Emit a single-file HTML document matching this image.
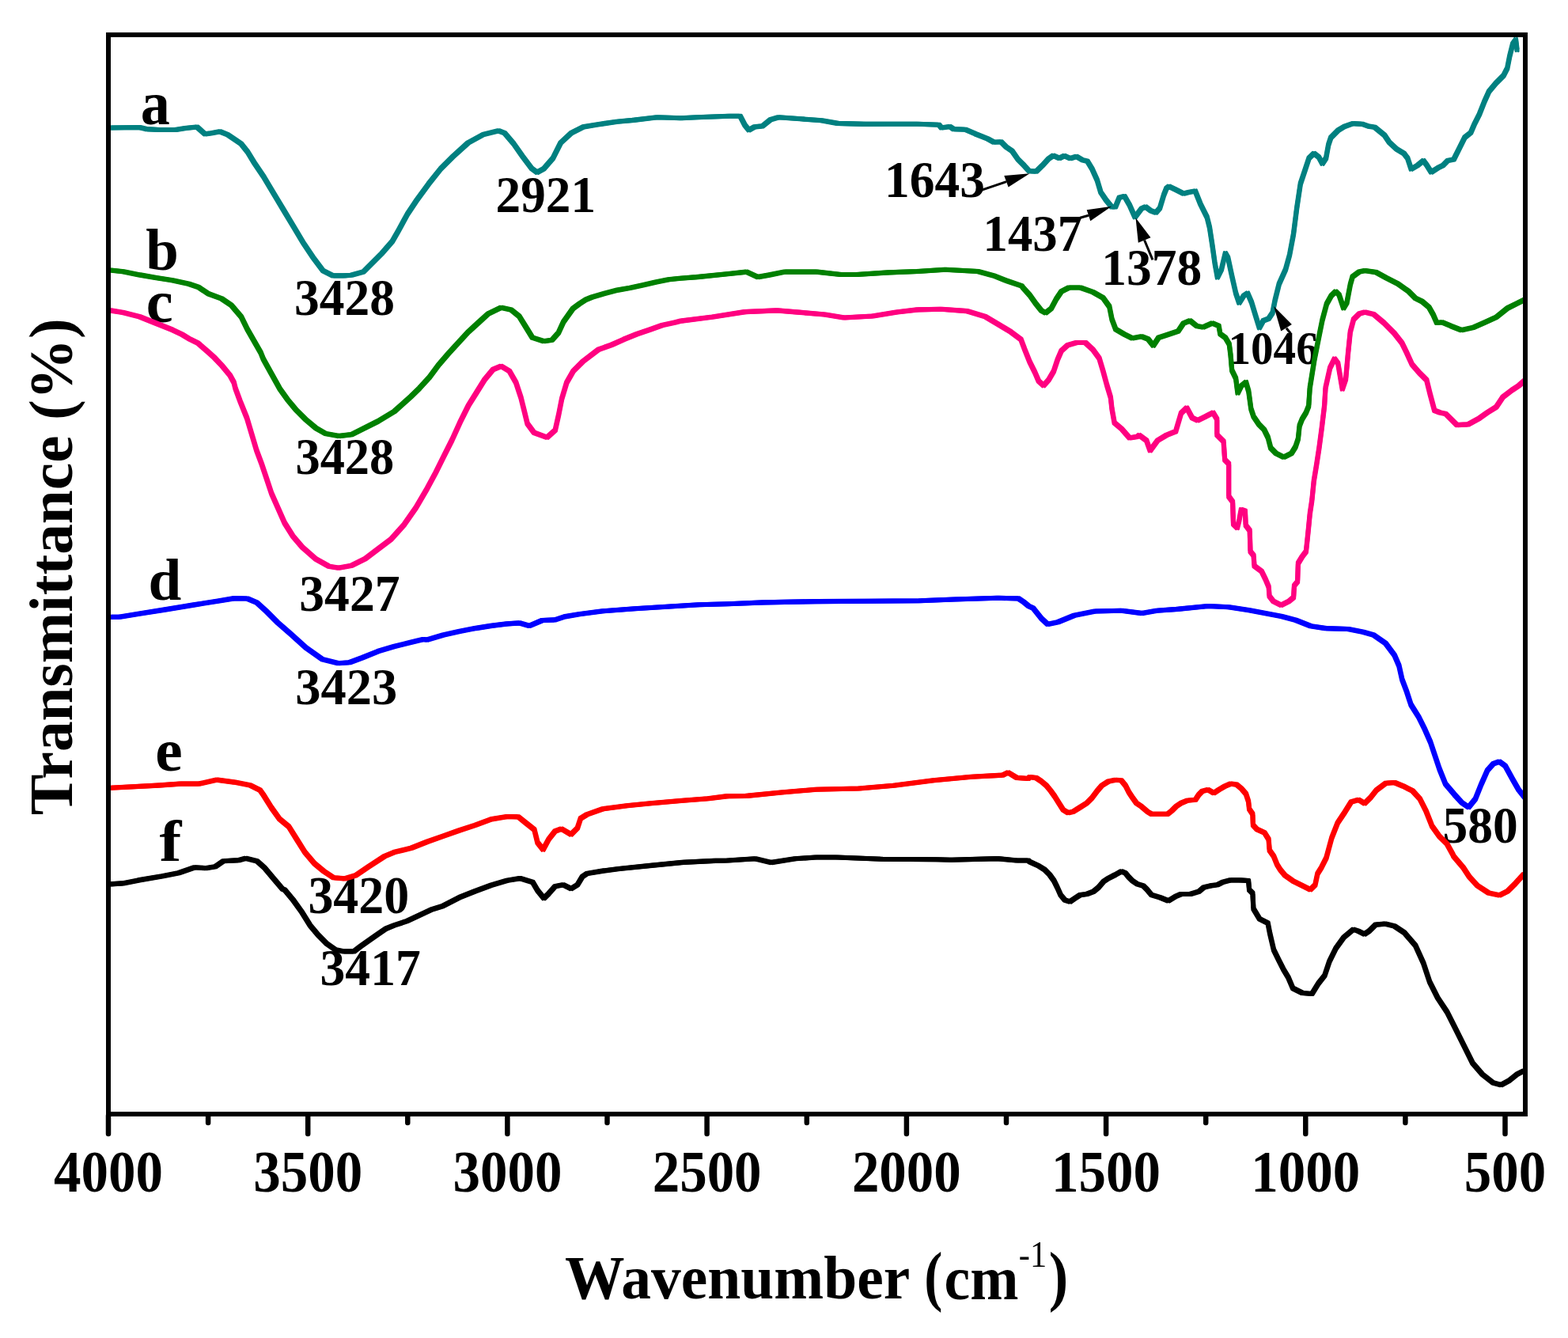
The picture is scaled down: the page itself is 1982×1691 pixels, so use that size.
<!DOCTYPE html>
<html><head><meta charset="utf-8"><title>FTIR spectra</title>
<style>html,body{margin:0;padding:0;background:#fff;width:1982px;height:1691px;overflow:hidden}svg{display:block}</style>
</head><body>
<svg width="1982" height="1691" viewBox="0 0 1982 1691">
<rect width="1982" height="1691" fill="#fff"/>
<g font-family="Liberation Serif, Times New Roman, serif" font-weight="bold" font-size="100" fill="#000">
<text transform="translate(177.68,157.13) scale(0.7413,0.7729)" font-weight="bold">a</text>
<text transform="translate(184.15,341.16) scale(0.7471,0.7429)" font-weight="bold">b</text>
<text transform="translate(184.71,407.13) scale(0.7641,0.7667)" font-weight="bold">c</text>
<text transform="translate(187.50,757.75) scale(0.7510,0.7500)" font-weight="bold">d</text>
<text transform="translate(196.28,973.74) scale(0.7744,0.7583)" font-weight="bold">e</text>
<text transform="translate(201.60,1088.20) scale(0.8371,0.7394)" font-weight="bold">f</text>
<text transform="translate(371.89,397.67) scale(0.6351,0.6647)" font-weight="bold">3428</text>
<text transform="translate(626.57,268.37) scale(0.6325,0.6632)" font-weight="bold">2921</text>
<text transform="translate(1118.02,248.59) scale(0.6344,0.6559)" font-weight="bold">1643</text>
<text transform="translate(1242.58,317.09) scale(0.6274,0.6559)" font-weight="bold">1437</text>
<text transform="translate(1392.32,360.09) scale(0.6349,0.6574)" font-weight="bold">1378</text>
<text transform="translate(1552.42,459.63) scale(0.5720,0.5868)" font-weight="bold">1046</text>
<text transform="translate(373.43,599.49) scale(0.6242,0.6544)" font-weight="bold">3428</text>
<text transform="translate(378.29,772.39) scale(0.6364,0.6529)" font-weight="bold">3427</text>
<text transform="translate(373.27,890.39) scale(0.6448,0.6529)" font-weight="bold">3423</text>
<text transform="translate(1823.56,1065.19) scale(0.6350,0.6529)" font-weight="bold">580</text>
<text transform="translate(389.38,1154.46) scale(0.6397,0.6676)" font-weight="bold">3420</text>
<text transform="translate(404.49,1245.29) scale(0.6369,0.6529)" font-weight="bold">3417</text>
<text transform="translate(68.02,1505.53) scale(0.6898,0.7353)">4000</text>
<text transform="translate(320.23,1505.53) scale(0.6898,0.7353)">3500</text>
<text transform="translate(572.45,1505.53) scale(0.6898,0.7353)">3000</text>
<text transform="translate(824.66,1505.53) scale(0.6898,0.7353)">2500</text>
<text transform="translate(1076.88,1505.53) scale(0.6898,0.7353)">2000</text>
<text transform="translate(1329.09,1505.53) scale(0.6898,0.7353)">1500</text>
<text transform="translate(1581.31,1505.53) scale(0.6898,0.7353)">1000</text>
<text transform="translate(1850.77,1505.53) scale(0.6898,0.7353)">500</text>
<text transform="translate(714.05,1641.35) scale(0.7550,0.7746)" font-weight="bold">Wavenumber</text>
<text transform="translate(1168.31,1640.83) scale(0.6963,0.8556)" font-weight="bold">(</text>
<text transform="translate(1193.60,1642.12) scale(0.7347,0.7812)" font-weight="bold">cm</text>
<text transform="translate(1287.83,1600.90) scale(0.4240,0.4712)" font-weight="normal">-1</text>
<text transform="translate(1325.70,1640.83) scale(0.7346,0.8556)" font-weight="bold">)</text>
<text transform="translate(91.30,1030.27) rotate(-90) scale(0.7737,0.7800)">Transmittance (%)</text>
</g>
<defs>
<path id="pf" d="M139.5,1117.4 L155.2,1116.4 L175.4,1112.4 L205.6,1107.3 L225.8,1103.3 L246.0,1096.2 L260.1,1097.2 L272.2,1095.2 L282.3,1088.2 L302.5,1087.1 L310.6,1084.7 L324.7,1088.2 L334.8,1097.2 L344.9,1109.3 L357.0,1123.5 L360.0,1124.7 L370.6,1137.5 L381.3,1152.4 L391.9,1169.4 L402.6,1182.2 L413.2,1192.8 L423.9,1200.3 L434.5,1202.4 L447.3,1202.4 L455.8,1196.0 L466.4,1188.6 L477.1,1181.1 L487.7,1173.7 L498.4,1169.4 L514.3,1164.1 L530.3,1156.6 L546.3,1149.2 L560.0,1144.9 L580.5,1134.3 L600.7,1126.2 L620.9,1118.8 L641.1,1112.7 L657.2,1110.1 L673.4,1115.1 L679.4,1125.2 L687.5,1135.3 L693.6,1129.3 L701.6,1120.2 L711.7,1118.2 L721.8,1123.2 L729.9,1118.2 L736.0,1108.1 L742.0,1104.0 L762.2,1100.6 L782.4,1098.0 L822.7,1093.9 L863.1,1089.9 L903.4,1087.9 L920.0,1087.5 L954.7,1085.3 L974.4,1090.1 L1005.0,1085.3 L1031.3,1083.5 L1057.5,1083.5 L1114.4,1085.7 L1184.5,1086.2 L1202.0,1086.8 L1261.0,1085.1 L1285.1,1087.5 L1300.0,1087.5 L1301.3,1089.0 L1311.9,1093.8 L1320.5,1099.1 L1326.8,1105.5 L1332.2,1113.0 L1336.4,1121.5 L1340.7,1131.1 L1346.0,1137.5 L1352.4,1139.6 L1358.8,1135.3 L1365.2,1131.1 L1373.7,1130.0 L1382.2,1126.8 L1388.6,1121.5 L1395.0,1114.0 L1401.4,1109.8 L1409.9,1105.5 L1417.3,1101.3 L1422.6,1103.4 L1426.9,1108.7 L1431.2,1113.0 L1437.5,1117.2 L1445.0,1119.4 L1450.3,1124.7 L1455.6,1131.1 L1466.3,1134.3 L1476.9,1138.5 L1485.5,1133.2 L1492.9,1130.0 L1504.6,1130.0 L1515.3,1126.8 L1521.6,1121.5 L1530.2,1119.4 L1538.7,1118.3 L1545.1,1115.1 L1554.6,1112.4 L1567.4,1112.4 L1578.1,1113.0 L1579.1,1124.7 L1583.4,1128.9 L1584.4,1148.4 L1592.2,1161.4 L1602.6,1166.6 L1605.2,1179.9 L1610.1,1200.7 L1616.1,1212.8 L1622.2,1224.9 L1628.2,1234.9 L1634.2,1249.0 L1646.3,1255.0 L1658.4,1256.0 L1666.4,1243.0 L1674.4,1232.9 L1680.5,1214.8 L1688.5,1198.7 L1698.6,1184.6 L1710.6,1174.6 L1716.7,1176.6 L1724.7,1180.6 L1730.7,1176.6 L1738.8,1168.6 L1750.8,1167.6 L1762.9,1170.6 L1775.0,1178.6 L1789.0,1194.7 L1799.1,1216.8 L1807.1,1240.9 L1817.2,1261.0 L1829.2,1279.1 L1839.3,1299.2 L1851.4,1323.4 L1861.4,1343.5 L1873.5,1357.6 L1887.5,1368.6 L1897.6,1371.2 L1907.7,1365.6 L1917.7,1357.6 L1925.7,1353.5"/>
<path id="pe" d="M139.5,995.7 L199.6,992.6 L227.8,990.6 L252.0,990.6 L274.3,985.6 L296.5,988.6 L316.6,992.6 L328.7,998.7 L332.8,1004.4 L342.9,1020.5 L353.0,1034.7 L365.1,1044.8 L375.2,1060.9 L385.3,1077.0 L397.4,1091.2 L409.5,1101.3 L421.6,1109.3 L435.7,1110.4 L449.8,1106.3 L466.0,1095.2 L486.2,1082.1 L498.3,1077.1 L520.0,1071.7 L540.2,1063.7 L560.4,1056.6 L580.5,1049.5 L600.7,1042.9 L620.9,1035.4 L641.1,1032.0 L655.2,1032.4 L665.3,1040.5 L675.4,1048.5 L679.4,1064.7 L686.5,1073.8 L693.6,1060.6 L701.6,1050.5 L709.7,1047.5 L721.8,1054.6 L729.9,1046.5 L733.9,1034.4 L742.0,1029.4 L762.2,1022.3 L792.5,1018.3 L822.7,1015.2 L863.1,1011.8 L895.4,1009.2 L920.0,1006.1 L943.8,1005.9 L987.5,1001.5 L1031.3,997.8 L1086.0,996.5 L1129.8,992.7 L1180.1,986.2 L1228.2,981.8 L1267.6,979.6 L1274.2,976.3 L1285.1,982.9 L1300.0,984.0 L1301.3,982.0 L1309.8,983.1 L1316.2,987.4 L1322.6,992.7 L1327.9,999.1 L1333.2,1006.5 L1338.5,1015.0 L1343.9,1023.5 L1350.3,1027.3 L1356.6,1025.7 L1365.2,1020.4 L1373.7,1015.0 L1380.1,1008.6 L1386.5,1000.1 L1392.8,992.7 L1401.4,987.4 L1409.9,985.8 L1417.3,986.3 L1422.6,992.7 L1426.9,1001.2 L1431.2,1007.6 L1436.5,1015.0 L1442.9,1019.3 L1450.3,1025.7 L1455.6,1028.9 L1466.3,1028.9 L1475.9,1028.9 L1481.2,1024.6 L1486.5,1019.3 L1492.9,1015.0 L1500.4,1011.8 L1511.0,1010.8 L1515.3,1004.4 L1519.5,1000.1 L1527.0,998.0 L1534.4,1002.3 L1540.8,998.0 L1548.3,993.7 L1555.7,990.5 L1563.2,991.6 L1569.5,996.9 L1574.9,1003.3 L1578.1,1012.9 L1579.1,1022.5 L1583.4,1028.9 L1583.9,1042.7 L1588.7,1048.0 L1598.3,1052.3 L1603.6,1060.8 L1604.7,1074.6 L1610.0,1082.1 L1614.3,1092.7 L1618.2,1099.0 L1624.2,1106.2 L1634.2,1113.3 L1646.3,1119.3 L1656.3,1124.3 L1662.4,1118.3 L1665.4,1104.2 L1670.4,1096.2 L1676.5,1084.1 L1677.6,1080.0 L1683.3,1059.0 L1690.8,1040.0 L1698.4,1028.7 L1707.9,1013.5 L1717.3,1010.7 L1724.9,1015.4 L1732.5,1007.9 L1740.0,998.4 L1751.4,989.9 L1762.7,989.0 L1774.1,993.7 L1785.4,999.4 L1794.9,1009.8 L1802.5,1024.9 L1810.0,1043.8 L1819.5,1057.1 L1829.0,1066.5 L1836.5,1080.0 L1837.3,1082.1 L1849.4,1096.2 L1857.4,1108.3 L1867.4,1119.3 L1881.5,1128.4 L1895.6,1131.4 L1905.6,1126.3 L1915.7,1116.3 L1925.7,1105.2"/>
<path id="pd" d="M139.5,779.7 L151.1,779.7 L175.4,775.7 L207.7,770.6 L244.0,764.6 L276.3,759.5 L296.5,756.1 L312.6,756.5 L324.7,761.6 L336.8,772.7 L351.0,786.8 L367.1,800.9 L387.3,819.1 L407.5,833.2 L427.6,838.2 L441.8,837.2 L457.9,831.2 L478.1,823.1 L498.3,817.1 L518.5,812.0 L535.0,808.0 L540.2,808.6 L560.4,802.6 L580.5,798.1 L600.7,794.1 L620.9,790.9 L641.1,788.4 L657.2,787.4 L669.3,790.9 L685.5,784.0 L701.6,783.4 L713.7,779.4 L731.9,776.3 L762.2,772.3 L802.5,769.3 L842.9,766.8 L883.3,764.2 L920.0,763.2 L926.3,763.0 L965.6,761.4 L1031.3,760.1 L1096.9,759.7 L1162.6,759.3 L1206.3,757.5 L1261.0,755.8 L1287.3,756.4 L1293.9,760.8 L1300.0,765.8 L1306.0,768.6 L1316.4,781.6 L1324.2,788.9 L1337.2,786.3 L1358.0,777.7 L1384.1,772.5 L1417.9,771.7 L1443.9,775.1 L1462.1,771.7 L1488.1,769.9 L1527.1,766.0 L1553.2,767.3 L1579.2,771.2 L1620.0,779.0 L1637.8,783.7 L1656.8,791.2 L1675.7,794.1 L1704.1,795.0 L1723.0,798.8 L1736.2,802.6 L1751.4,813.0 L1762.7,828.1 L1768.4,841.4 L1772.2,858.4 L1777.9,873.5 L1783.5,890.6 L1793.0,905.7 L1800.6,920.8 L1808.1,937.9 L1813.8,954.9 L1819.5,971.9 L1827.1,990.8 L1838.4,1004.1 L1847.9,1014.5 L1856.4,1020.2 L1864.9,1009.8 L1872.5,990.8 L1880.0,973.8 L1887.6,965.3 L1895.2,962.5 L1902.7,968.1 L1912.2,985.2 L1919.8,998.4 L1927.3,1007.9"/>
<path id="pc" d="M139.5,392.4 L155.7,395.0 L176.4,400.2 L197.0,408.5 L217.8,416.8 L230.0,422.6 L240.1,428.7 L250.2,433.7 L260.3,442.3 L270.4,451.4 L280.5,462.0 L290.5,474.1 L295.6,483.2 L297.6,491.1 L303.8,507.7 L312.1,528.4 L318.3,549.1 L324.5,569.8 L330.7,586.3 L337.0,605.0 L343.2,623.6 L351.4,642.2 L359.7,660.9 L370.1,677.4 L382.5,691.9 L399.0,706.4 L415.6,715.7 L428.0,717.8 L444.6,714.7 L461.2,706.4 L477.7,694.0 L494.3,681.6 L510.9,662.9 L525.4,642.2 L539.9,617.4 L550.7,597.4 L561.0,576.7 L571.4,556.0 L581.8,533.2 L592.1,512.5 L602.5,495.9 L612.8,479.4 L623.2,467.0 L633.5,462.8 L643.9,469.0 L652.2,483.5 L658.4,502.2 L662.5,518.7 L666.6,535.3 L674.9,546.7 L691.5,552.9 L701.8,543.6 L706.0,524.9 L710.1,504.2 L716.3,483.5 L724.6,469.0 L737.0,456.6 L756.5,441.7 L772.7,436.0 L788.8,428.8 L804.9,422.3 L821.1,416.7 L837.2,411.0 L853.4,407.4 L860.9,405.6 L901.3,400.5 L941.6,394.1 L982.0,392.4 L1012.3,394.9 L1042.5,397.5 L1066.8,401.5 L1103.1,399.5 L1133.4,394.5 L1160.0,391.4 L1189.9,390.7 L1221.9,393.1 L1245.8,400.3 L1261.8,409.8 L1277.7,419.4 L1290.5,429.0 L1295.3,441.8 L1301.7,457.7 L1308.1,470.5 L1312.9,481.7 L1319.2,487.3 L1325.6,480.1 L1332.0,468.9 L1336.8,454.5 L1341.6,443.4 L1349.6,436.2 L1360.8,433.0 L1371.9,433.0 L1381.5,441.8 L1389.5,452.9 L1394.3,468.9 L1399.1,486.5 L1403.9,502.4 L1405.5,516.8 L1408.7,534.4 L1418.2,542.4 L1427.8,553.5 L1437.4,551.9 L1440.0,549.9 L1449.2,556.8 L1453.8,569.5 L1463.1,556.8 L1474.6,549.9 L1486.1,545.3 L1493.0,522.2 L1500.0,515.3 L1506.9,528.0 L1513.8,531.4 L1523.0,526.8 L1532.2,522.2 L1533.3,521.5 L1538.3,529.8 L1538.3,549.7 L1546.6,557.9 L1548.2,581.1 L1553.2,586.1 L1553.2,627.5 L1558.1,634.1 L1559.0,662.3 L1563.9,667.2 L1566.4,657.3 L1568.9,644.0 L1573.9,645.7 L1574.7,663.9 L1579.7,670.5 L1580.5,697.0 L1584.6,702.0 L1585.5,715.2 L1594.6,721.9 L1599.5,731.8 L1603.7,741.7 L1604.5,753.3 L1609.5,759.9 L1619.4,764.9 L1629.3,759.9 L1635.1,755.0 L1636.0,740.1 L1640.1,735.1 L1640.9,711.9 L1645.9,703.6 L1650.9,697.0 L1652.5,682.1 L1654.2,665.6 L1655.8,649.0 L1658.3,632.5 L1660.8,607.6 L1664.1,587.7 L1667.4,566.2 L1670.7,541.4 L1674.1,513.2 L1675.5,490.3 L1681.2,464.8 L1686.9,453.4 L1691.2,459.1 L1696.8,491.7 L1701.1,479.0 L1703.9,447.7 L1706.8,419.3 L1711.0,403.7 L1718.1,396.6 L1725.2,394.5 L1736.6,397.3 L1749.3,408.0 L1762.1,420.8 L1772.1,433.5 L1777.7,444.9 L1784.8,460.5 L1794.8,471.9 L1803.3,480.4 L1807.5,497.4 L1813.2,518.7 L1820.3,521.5 L1827.4,523.0 L1841.6,537.1 L1855.8,536.4 L1870.0,528.6 L1879.9,521.5 L1891.3,514.4 L1899.8,501.7 L1911.1,493.1 L1919.7,487.5 L1926.8,481.1"/>
<path id="pb" d="M139.5,341.5 L155.7,343.3 L176.4,347.4 L197.0,351.0 L217.8,354.2 L238.5,358.8 L251.0,363.0 L263.4,371.2 L280.0,377.4 L292.4,385.7 L304.8,400.2 L313.0,416.8 L321.3,431.3 L329.6,445.8 L332.8,453.8 L343.2,472.5 L353.5,491.1 L363.9,505.6 L374.2,518.0 L386.6,530.4 L399.0,540.8 L411.5,548.0 L428.0,551.1 L444.6,549.1 L457.0,542.9 L477.7,532.5 L498.4,520.0 L519.2,501.4 L530.0,490.8 L542.4,477.3 L554.8,460.7 L567.3,446.3 L579.7,432.8 L592.1,419.3 L604.5,408.0 L617.0,396.6 L633.5,388.7 L645.9,391.4 L656.3,399.7 L664.6,413.1 L672.9,426.6 L687.3,431.3 L697.7,429.7 L706.0,420.4 L712.2,406.9 L716.1,401.3 L724.2,390.0 L732.3,384.0 L740.4,378.8 L748.4,375.5 L764.6,370.7 L780.7,366.6 L796.9,363.8 L813.0,360.2 L829.2,356.5 L845.3,353.3 L859.8,351.7 L881.1,350.1 L921.5,346.0 L943.7,343.6 L957.8,350.1 L971.9,347.6 L992.1,343.6 L1032.5,343.6 L1062.7,347.0 L1082.9,347.0 L1123.3,344.4 L1160.0,343.0 L1194.6,340.7 L1236.1,343.0 L1256.1,348.4 L1271.5,354.5 L1291.5,361.4 L1293.7,364.3 L1301.7,373.1 L1309.7,384.3 L1316.1,392.3 L1321.6,395.5 L1328.8,389.9 L1335.2,377.9 L1341.6,368.3 L1351.2,363.5 L1365.6,363.5 L1381.5,369.1 L1394.3,376.3 L1402.3,387.5 L1405.5,403.4 L1410.3,416.2 L1421.4,422.6 L1431.0,427.4 L1442.9,425.2 L1451.2,428.5 L1457.8,436.8 L1464.4,426.8 L1474.4,423.5 L1489.3,418.5 L1495.9,408.6 L1504.2,405.3 L1512.5,411.9 L1520.7,413.6 L1532.3,408.3 L1540.6,411.9 L1542.3,421.9 L1548.9,426.8 L1553.8,435.1 L1555.5,448.3 L1557.2,468.2 L1562.1,478.1 L1564.5,496.8 L1569.1,487.6 L1574.9,483.0 L1578.3,494.5 L1581.3,516.6 L1584.6,526.5 L1591.3,536.4 L1597.9,543.0 L1602.8,553.0 L1606.2,566.2 L1612.8,572.8 L1622.7,577.8 L1632.6,572.8 L1637.6,564.6 L1640.9,554.6 L1642.6,538.1 L1645.9,529.8 L1650.9,521.5 L1654.2,513.2 L1655.7,490.3 L1661.4,454.8 L1667.0,426.4 L1671.3,405.2 L1677.0,383.9 L1682.6,373.9 L1688.3,368.3 L1692.6,372.5 L1698.3,389.5 L1702.5,382.4 L1706.8,359.7 L1709.6,349.8 L1718.1,343.4 L1725.2,342.0 L1739.4,344.1 L1752.2,351.2 L1766.4,358.3 L1780.6,368.3 L1789.1,376.8 L1797.6,381.0 L1806.1,388.1 L1811.8,398.1 L1816.1,408.0 L1823.1,407.3 L1834.5,412.2 L1847.3,417.2 L1862.9,413.7 L1877.1,407.3 L1891.3,400.9 L1905.5,389.5 L1916.8,383.9 L1926.8,378.9"/>
<path id="pa" d="M139.5,161.5 L176.4,161.0 L184.7,163.1 L201.0,164.0 L222.0,164.0 L234.4,162.0 L249.0,160.5 L259.0,169.4 L267.5,168.3 L277.9,166.3 L288.2,170.4 L298.6,177.6 L304.8,181.8 L313.0,192.0 L321.3,205.6 L333.8,224.2 L346.2,245.0 L358.6,265.6 L371.0,286.3 L383.4,307.0 L395.9,325.7 L408.3,342.2 L420.7,348.4 L435.0,348.4 L444.1,347.7 L459.4,343.5 L470.9,332.0 L482.4,320.5 L495.9,305.1 L503.5,291.7 L515.0,270.6 L526.5,253.4 L541.9,232.3 L557.2,213.1 L572.5,197.8 L591.7,180.5 L610.9,170.0 L630.1,165.2 L637.7,168.1 L649.2,181.5 L660.7,197.8 L672.2,213.1 L679.0,217.9 L687.6,213.1 L699.1,199.7 L708.7,180.5 L722.1,168.1 L737.4,160.4 L754.7,157.5 L780.0,153.7 L800.4,151.9 L830.6,148.3 L860.9,149.3 L881.1,148.3 L921.5,146.8 L935.6,146.8 L941.6,158.3 L946.7,164.4 L953.7,160.4 L963.8,159.4 L973.9,151.3 L984.0,148.3 L1012.3,150.3 L1038.5,152.3 L1058.7,155.9 L1093.0,156.9 L1123.3,156.7 L1160.0,156.7 L1186.9,157.7 L1190.0,161.5 L1200.7,160.0 L1205.3,163.1 L1220.7,163.8 L1233.0,169.2 L1248.4,175.4 L1256.1,179.7 L1265.3,179.2 L1271.5,185.4 L1279.2,190.7 L1286.8,201.5 L1294.5,209.2 L1300.7,216.1 L1309.9,216.6 L1317.6,209.2 L1325.3,200.7 L1331.4,196.6 L1339.1,200.0 L1345.3,196.9 L1353.0,200.3 L1360.7,197.7 L1368.3,202.3 L1374.5,203.8 L1380.6,213.8 L1386.8,227.6 L1391.4,243.0 L1397.6,252.2 L1405.2,261.5 L1410.0,261.5 L1414.8,249.7 L1421.4,248.0 L1428.0,259.6 L1434.6,274.5 L1442.9,263.7 L1447.9,261.3 L1454.5,266.2 L1461.1,268.7 L1466.1,262.9 L1471.1,246.4 L1474.4,238.1 L1477.7,235.6 L1486.0,239.7 L1495.9,244.7 L1502.5,243.0 L1510.8,241.4 L1517.4,257.9 L1525.7,274.5 L1529.0,287.7 L1532.3,309.3 L1535.6,332.5 L1538.9,350.7 L1543.9,340.7 L1548.9,320.0 L1552.2,325.8 L1557.2,349.0 L1562.1,370.5 L1566.3,382.9 L1572.1,373.8 L1577.0,370.5 L1582.0,382.1 L1587.0,398.7 L1591.9,414.4 L1596.9,405.3 L1603.5,402.8 L1608.5,395.4 L1611.8,378.8 L1616.8,358.9 L1625.0,340.7 L1630.0,322.5 L1635.0,296.0 L1639.2,263.0 L1643.8,232.2 L1650.0,213.8 L1654.6,199.9 L1660.8,193.8 L1666.9,198.4 L1671.5,206.8 L1676.1,199.9 L1679.2,183.0 L1682.3,173.8 L1691.5,164.6 L1699.2,160.0 L1710.0,156.1 L1722.3,156.9 L1730.0,159.6 L1737.6,160.7 L1749.9,170.7 L1756.1,179.9 L1765.3,188.4 L1774.5,193.8 L1779.2,199.9 L1783.8,213.8 L1791.5,209.2 L1799.2,203.0 L1803.8,209.2 L1809.1,217.6 L1817.6,212.2 L1823.8,209.2 L1829.9,203.0 L1837.6,201.5 L1845.3,186.1 L1851.4,173.8 L1859.1,167.6 L1863.7,156.9 L1869.9,144.6 L1876.0,129.2 L1882.2,115.4 L1891.4,104.6 L1900.6,95.4 L1905.3,86.1 L1908.3,70.8 L1912.2,55.4 L1916.0,50.0 L1917.6,63.1"/>
</defs>
<g fill="none" stroke-width="3.2" stroke-linejoin="round" stroke-linecap="round">
<use href="#pf" stroke="#000000" x="-1.45" y="-1.45"/>
<use href="#pf" stroke="#000000" x="1.45" y="-1.45"/>
<use href="#pf" stroke="#000000" x="-1.45" y="1.45"/>
<use href="#pf" stroke="#000000" x="1.45" y="1.45"/>
<use href="#pe" stroke="#FF0000" x="-1.45" y="-1.45"/>
<use href="#pe" stroke="#FF0000" x="1.45" y="-1.45"/>
<use href="#pe" stroke="#FF0000" x="-1.45" y="1.45"/>
<use href="#pe" stroke="#FF0000" x="1.45" y="1.45"/>
<use href="#pd" stroke="#0000FF" x="-1.45" y="-1.45"/>
<use href="#pd" stroke="#0000FF" x="1.45" y="-1.45"/>
<use href="#pd" stroke="#0000FF" x="-1.45" y="1.45"/>
<use href="#pd" stroke="#0000FF" x="1.45" y="1.45"/>
<use href="#pc" stroke="#FF0080" x="-1.45" y="-1.45"/>
<use href="#pc" stroke="#FF0080" x="1.45" y="-1.45"/>
<use href="#pc" stroke="#FF0080" x="-1.45" y="1.45"/>
<use href="#pc" stroke="#FF0080" x="1.45" y="1.45"/>
<use href="#pb" stroke="#008000" x="-1.45" y="-1.45"/>
<use href="#pb" stroke="#008000" x="1.45" y="-1.45"/>
<use href="#pb" stroke="#008000" x="-1.45" y="1.45"/>
<use href="#pb" stroke="#008000" x="1.45" y="1.45"/>
<use href="#pa" stroke="#008080" x="-1.45" y="-1.45"/>
<use href="#pa" stroke="#008080" x="1.45" y="-1.45"/>
<use href="#pa" stroke="#008080" x="-1.45" y="1.45"/>
<use href="#pa" stroke="#008080" x="1.45" y="1.45"/>
</g>
<rect x="137" y="44" width="1791" height="1364" fill="none" stroke="#000" stroke-width="6"/>
<path d="M137.0,1410 V1433 M263.1,1410 V1419 M389.2,1410 V1433 M515.3,1410 V1419 M641.4,1410 V1433 M767.5,1410 V1419 M893.6,1410 V1433 M1019.8,1410 V1419 M1145.9,1410 V1433 M1272.0,1410 V1419 M1398.1,1410 V1433 M1524.2,1410 V1419 M1650.3,1410 V1433 M1776.4,1410 V1419 M1902.5,1410 V1433" stroke="#000" stroke-width="6.5" stroke-linecap="round" fill="none"/>
<line x1="1241.1" y1="240.1" x2="1272" y2="229.6" stroke="#000" stroke-width="3"/>
<polygon points="1301.6,219.3 1269.3,222 1274.6,236.5" fill="#000"/>
<line x1="1365.3" y1="275.3" x2="1376" y2="272.2" stroke="#000" stroke-width="3"/>
<polygon points="1405.2,260.7 1373.7,265.3 1378.3,279.2" fill="#000"/>
<line x1="1457" y1="328.3" x2="1446.6" y2="303.5" stroke="#000" stroke-width="3"/>
<polygon points="1435.5,275.3 1438.8,306.8 1454.5,300.2" fill="#000"/>
<line x1="1631.5" y1="421.5" x2="1626" y2="414.8" stroke="#000" stroke-width="3"/>
<polygon points="1610.1,387.1 1619.2,418.4 1632.9,409.9" fill="#000"/>
</svg>
</body></html>
